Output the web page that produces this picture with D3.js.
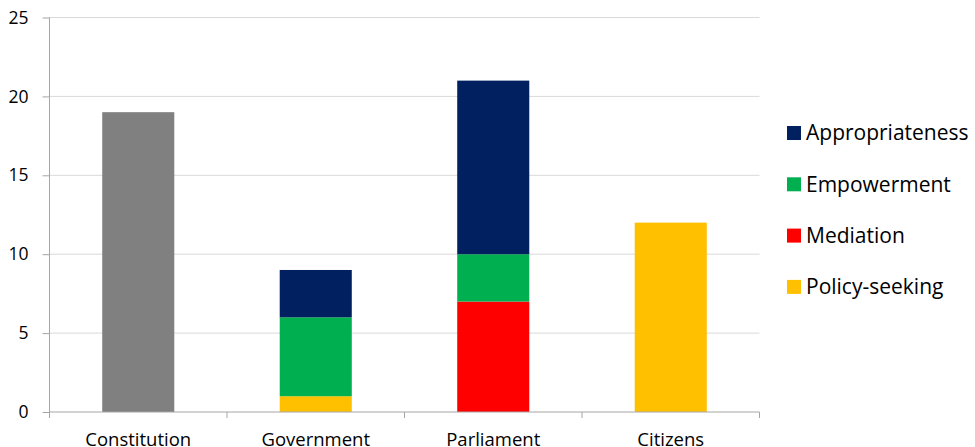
<!DOCTYPE html>
<html><head><meta charset="utf-8">
<script src="https://cdn.jsdelivr.net/npm/d3@7"></script>
<style>body{margin:0;background:#fff}svg{display:block}text{font-family:"Open Sans",sans-serif;fill:#000}</style>
</head><body><svg id="c" width="975" height="447"></svg>
<script>
const categories = ["Constitution","Government","Parliament","Citizens"];
const seriesNames = ["Constitution","Policy-seeking","Mediation","Empowerment","Appropriateness"];
const constitution   = [19,0,0,0];
const policySeeking  = [0,1,0,12];
const mediation      = [0,0,7,0];
const empowerment    = [0,5,3,0];
const appropriateness= [0,3,11,0];
const yTicks = [0,5,10,15,20,25];
const legendNames = ["Appropriateness","Empowerment","Mediation","Policy-seeking"];
const colors = {"Constitution":"#808080","Policy-seeking":"#FFC000","Mediation":"#FF0000","Empowerment":"#00B050","Appropriateness":"#002060"};

const rows = categories.map((c,i)=>({cat:c,"Constitution":constitution[i],"Policy-seeking":policySeeking[i],"Mediation":mediation[i],"Empowerment":empowerment[i],"Appropriateness":appropriateness[i]}));
const svg = d3.select("#c");
const L=49.5, R=759.5, T=17.5, B=412;
const x = d3.scaleBand().domain(categories).range([L,R]).paddingInner(0.594).paddingOuter(0.297);
const y = d3.scaleLinear().domain([0,25]).range([B,T]);

svg.append("g").selectAll("line").data(yTicks.filter(d=>d>0)).join("line")
  .attr("x1",L).attr("x2",R).attr("y1",d=>y(d)).attr("y2",d=>y(d))
  .attr("stroke","#d9d9d9").attr("stroke-width",1);

const stack = d3.stack().keys(seriesNames)(rows);
svg.append("g").selectAll("g").data(stack).join("g").attr("fill",d=>colors[d.key])
  .selectAll("rect").data(d=>d).join("rect")
  .attr("x",d=>x(d.data.cat)).attr("width",x.bandwidth())
  .attr("y",d=>y(d[1])).attr("height",d=>y(d[0])-y(d[1]));

// y axis
const ya = svg.append("g").attr("transform",`translate(${L},0)`)
  .call(d3.axisLeft(y).tickValues(yTicks).tickSize(7).tickPadding(14));
ya.select(".domain").attr("stroke","#a6a6a6").attr("d",`M0,${B}V${T}`);
ya.selectAll(".tick line").attr("stroke","#a6a6a6");
ya.selectAll(".tick text").attr("font-size","17.5px").attr("font-family","Open Sans").attr("fill","#000");

// x axis
const xa = svg.append("g").attr("transform",`translate(0,${B})`)
  .call(d3.axisBottom(x).tickSize(0));
xa.select(".domain").attr("stroke","#a6a6a6").attr("d",`M${L},0H${R}`);
xa.selectAll(".tick text").attr("font-size","18.5px").attr("font-family","Open Sans").attr("fill","#000")
  .attr("y",33.5).attr("dy",0);
const step = x.step();
svg.append("g").selectAll("line").data(d3.range(categories.length+1)).join("line")
  .attr("x1",i=>L+i*step).attr("x2",i=>L+i*step).attr("y1",B).attr("y2",B+6)
  .attr("stroke","#a6a6a6");

// legend
const lg = svg.append("g").selectAll("g").data(legendNames).join("g")
  .attr("transform",(d,i)=>`translate(787,${133+i*51.3})`);
lg.append("rect").attr("x",0).attr("y",-7).attr("width",14).attr("height",14).attr("fill",d=>colors[d]);
lg.append("text").attr("x",19).attr("dy","0.35em").attr("font-size","21px").text(d=>d);
</script></body></html>
